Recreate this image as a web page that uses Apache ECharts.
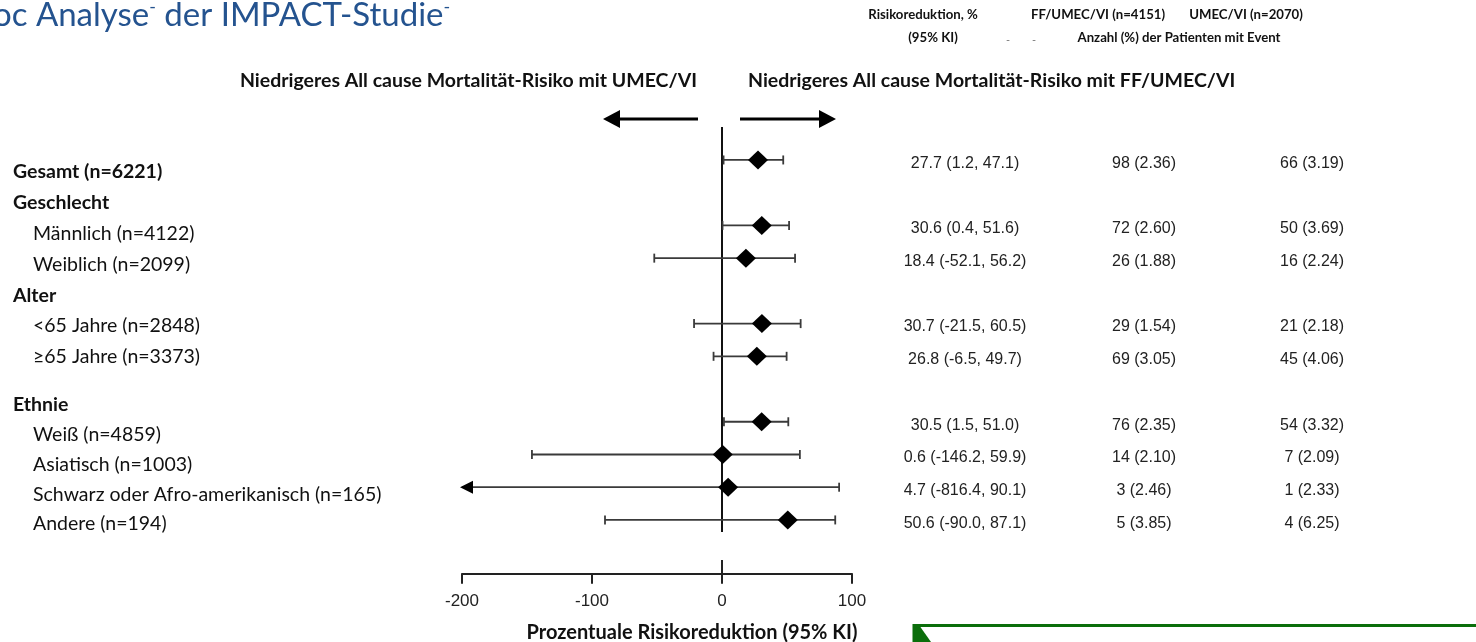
<!DOCTYPE html>
<html><head><meta charset="utf-8">
<script src="https://cdn.jsdelivr.net/npm/echarts@6/dist/echarts.min.js"></script>
<style>html,body{margin:0;padding:0;background:#fff;overflow:hidden}#c{width:1476px;height:642px}</style>
</head><body><div id="c"></div>
<script>
// ---------- DATA ----------
const rowLabels = ['Gesamt (n=6221)','Geschlecht','Männlich (n=4122)','Weiblich (n=2099)','Alter','<65 Jahre (n=2848)','≥65 Jahre (n=3373)','Ethnie','Weiß (n=4859)','Asiatisch (n=1003)','Schwarz oder Afro-amerikanisch (n=165)','Andere (n=194)'];
const rowLevel = ['bold','bold','sub','sub','bold','sub','sub','bold','sub','sub','sub','sub'];
const estimate = [27.7,null,30.6,18.4,null,30.7,26.8,null,30.5,0.6,4.7,50.6];
const lowerCI  = [1.2,null,0.4,-52.1,null,-21.5,-6.5,null,1.5,-146.2,-816.4,-90.0];
const upperCI  = [47.1,null,51.6,56.2,null,60.5,49.7,null,51.0,59.9,90.1,87.1];
const ffCount  = [98,null,72,26,null,29,69,null,76,14,3,5];
const ffPct    = [2.36,null,2.60,1.88,null,1.54,3.05,null,2.35,2.10,2.46,3.85];
const umCount  = [66,null,50,16,null,21,45,null,54,7,1,4];
const umPct    = [3.19,null,3.69,2.24,null,2.18,4.06,null,3.32,2.09,2.33,6.25];
const xTicks   = [-200,-100,0,100];
const titleText = 'oc Analyse';
const titleText2 = ' der IMPACT-Studie';
const colHeaders = ['Risikoreduktion, %','(95% KI)','FF/UMEC/VI (n=4151)','UMEC/VI (n=2070)','Anzahl (%) der Patienten mit Event'];
const dirLabels = ['Niedrigeres All cause Mortalität-Risiko mit UMEC/VI','Niedrigeres All cause Mortalität-Risiko mit FF/UMEC/VI'];
const xAxisTitle = 'Prozentuale Risikoreduktion (95% KI)';

// ---------- BUILD ----------
const UI = 'Lato, "Open Sans", sans-serif';
const NUM = '"Liberation Sans", Arial, sans-serif';
const xMin = xTicks[0], xMax = xTicks[xTicks.length-1], xStep = xTicks[1]-xTicks[0];

const ciData = [], ptData = [];
estimate.forEach((e,i)=>{ if(e!==null){ ciData.push([lowerCI[i], i, upperCI[i]]); ptData.push([e, i]); } });
const fmtCI = i => estimate[i]===null ? '' : `${estimate[i].toFixed(1)} (${lowerCI[i].toFixed(1)}, ${upperCI[i].toFixed(1)})`;
const fmtEv = (n,p,i) => n[i]===null ? '' : `${n[i]} (${p[i].toFixed(2)})`;
const groupA = rowLabels.slice(0,7), groupB = rowLabels.slice(7);

const chart = echarts.init(document.getElementById('c'), null, {renderer:'canvas'});

const colAxis = (margin, fmt) => ({
  gridIndex:0, type:'category', data:rowLabels, inverse:true, position:'right',
  axisLine:{show:false}, axisTick:{show:false}, splitLine:{show:false},
  axisLabel:{interval:0, margin, align:'center', color:'#222', fontFamily:NUM, fontSize:16,
    formatter:(v,i)=>{ const s = fmt(i); return s ? `{c|${s}}` : ''; },
    rich:{c:{fontFamily:NUM, fontSize:16, color:'#222', padding:[7,0,0,0]}}}
});
const LF = 19.5;
const leftAxis = (gi, data) => ({gridIndex:gi, type:'category', data, inverse:true, position:'left',
  axisLine:{show:false}, axisTick:{show:false}, splitLine:{show:false},
  axisLabel:{interval:0, margin:407, align:'left', color:'#111', fontFamily:UI, fontSize:LF,
    formatter:(v)=>{ const k=rowLabels.indexOf(v); return rowLevel[k]==='bold' ? `{b|${v}}` : `{s|${v}}`; },
    rich:{ b:{fontFamily:UI, fontWeight:'bold', fontSize:LF, color:'#111'}, s:{fontFamily:UI, fontSize:LF, color:'#111', padding:[0,0,0,20]} }}});

chart.setOption({
  backgroundColor:'#fff',
  animation:false,
  grid:[
    {left:462, right:624, top:143.6, height:392.7},
    {left:420, width:10, top:156.6, height:215.8},
    {left:420, width:10, top:390.1, height:148.75}
  ],
  xAxis:[
    {gridIndex:0, type:'value', min:xMin, max:xMax, interval:xStep, offset:37.4,
     axisLine:{show:true, lineStyle:{color:'#222', width:2}},
     axisTick:{show:true, length:10, lineStyle:{color:'#222', width:2}},
     splitLine:{show:false},
     axisLabel:{margin:19, color:'#222', fontFamily:NUM, fontSize:17}},
    {gridIndex:1, type:'value', show:false},
    {gridIndex:2, type:'value', show:false}
  ],
  yAxis:[
    {gridIndex:0, type:'category', data:rowLabels, inverse:true, show:false},
    colAxis(113, fmtCI),
    colAxis(292, i=>fmtEv(ffCount,ffPct,i)),
    colAxis(460, i=>fmtEv(umCount,umPct,i)),
    leftAxis(1, groupA),
    leftAxis(2, groupB)
  ],
  series:[
    {type:'custom', xAxisIndex:0, yAxisIndex:0, data:ciData, encode:{x:[0,2], y:1}, clip:false, z:2,
     renderItem:(params, api)=>{
       const lo = api.value(0), row = api.value(1), hi = api.value(2);
       const y = api.coord([0,row])[1];
       const xl = api.coord([Math.max(lo,xMin), row])[0];
       const xh = api.coord([hi, row])[0];
       const st = {stroke:'#3a3a3a', lineWidth:1.8};
       const ch = [
         {type:'line', shape:{x1:xl,y1:y,x2:xh,y2:y}, style:st},
         {type:'line', shape:{x1:xh,y1:y-4.5,x2:xh,y2:y+4.5}, style:st}
       ];
       if(lo < xMin) ch.push({type:'polygon', shape:{points:[[xl-2,y],[xl+11,y-6.5],[xl+11,y+6.5]]}, style:{fill:'#000'}});
       else ch.push({type:'line', shape:{x1:xl,y1:y-4.5,x2:xl,y2:y+4.5}, style:st});
       return {type:'group', children:ch};
     }},
    {type:'scatter', xAxisIndex:0, yAxisIndex:0, data:ptData, symbol:'diamond', symbolSize:[20,19], z:5,
     itemStyle:{color:'#000', opacity:1}}
  ]
});

// decorations positioned through the axes
const px = v => chart.convertToPixel({xAxisIndex:0}, v);
const x0 = px(0);
const axisY = 143.6 + 392.7 + 37.4;
const txt = (text, x, y, o={}) => ({type:'text', x, y, silent:true, style:Object.assign({text, fill:'#111', font:`bold 13.2px ${UI}`, textAlign:'center', textVerticalAlign:'middle'}, o)});
chart.setOption({graphic:[
  // zero reference line
  {type:'line', shape:{x1:x0, y1:127, x2:x0, y2:532}, style:{stroke:'#111', lineWidth:2}, z:1},
  {type:'line', shape:{x1:x0, y1:560, x2:x0, y2:axisY}, style:{stroke:'#222', lineWidth:2}},
  // direction arrows
  {type:'line', shape:{x1:698, y1:119, x2:615, y2:119}, style:{stroke:'#000', lineWidth:3}},
  {type:'polygon', shape:{points:[[603,119],[620,110],[620,128]]}, style:{fill:'#000'}},
  {type:'line', shape:{x1:740, y1:119, x2:824, y2:119}, style:{stroke:'#000', lineWidth:3}},
  {type:'polygon', shape:{points:[[836,119],[819,110],[819,128]]}, style:{fill:'#000'}},
  txt(dirLabels[0], 697, 81, {font:`bold 19.5px ${UI}`, textAlign:'right'}),
  txt(dirLabels[1], 748, 81, {font:`bold 19.5px ${UI}`, textAlign:'left'}),
  // column headers
  txt(colHeaders[0], 923, 15),
  txt(colHeaders[1], 933, 38),
  txt(colHeaders[2], 1098, 15),
  txt(colHeaders[3], 1246, 15),
  txt(colHeaders[4], 1179, 38),
  txt('-', 1008, 40, {font:`11px ${UI}`, fill:'#777'}),
  txt('-', 1034, 40, {font:`11px ${UI}`, fill:'#777'}),
  // axis title
  txt(xAxisTitle, 692, 633, {font:`bold 20px ${UI}`}),
  // slide title (cut off)
  {type:'text', x:-7, y:15, silent:true, style:{text:`{t|${titleText}}{s|-}{t|${titleText2}}{s|-}`, textVerticalAlign:'middle',
    rich:{t:{font:`33px ${UI}`, fill:'#24538F'}, s:{font:`18px ${UI}`, fill:'#24538F', verticalAlign:'top', padding:[0,0,16,0]}}}},
  // green callout box (cut off)
  {type:'rect', shape:{x:914, y:625.5, width:600, height:40}, style:{fill:'#fff', stroke:'#0B6E0B', lineWidth:3}},
  {type:'polygon', shape:{points:[[913,625],[919,625],[931,642],[913,642]]}, style:{fill:'#0B6E0B'}}
]});
</script></body></html>
